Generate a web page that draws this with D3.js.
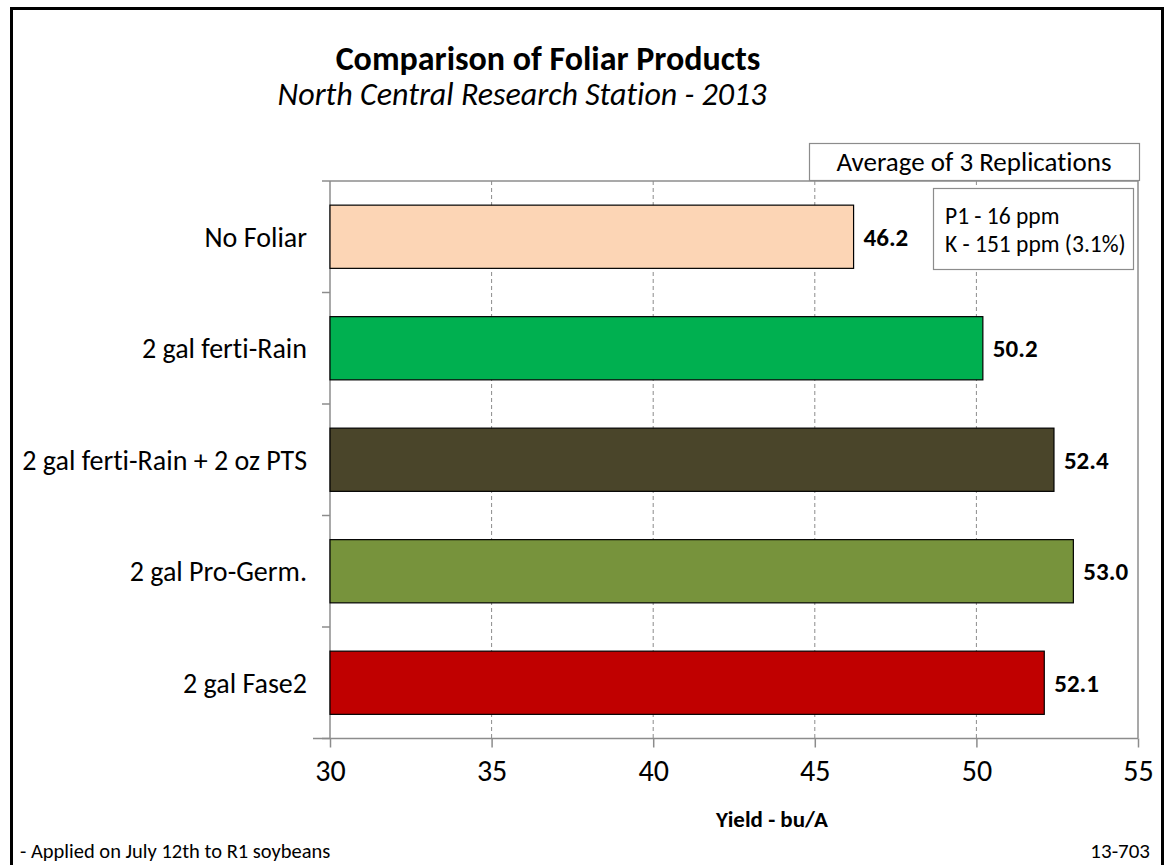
<!DOCTYPE html>
<html>
<head>
<meta charset="utf-8">
<script src="https://cdn.jsdelivr.net/npm/d3@7"></script>
<style>
  body { margin: 0; background: #fff; }
  svg text { font-family: Carlito, Calibri, Lato, "Open Sans", sans-serif; fill: #000; font-variant-ligatures: none; }
</style>
</head>
<body>
<div id="chart"></div>
<script>
// data
var categories = ["No Foliar", "2 gal ferti-Rain", "2 gal ferti-Rain + 2 oz PTS", "2 gal Pro-Germ.", "2 gal Fase2"];
var yields = [46.2, 50.2, 52.4, 53.0, 52.1];
var barColors = ["#FCD5B5", "#00B050", "#4A452A", "#77933C", "#C00000"];
var xTicks = [30, 35, 40, 45, 50, 55];
var notes = ["P1 - 16 ppm", "K - 151 ppm (3.1%)"];

var width = 1169, height = 865;
var plot = {left: 330, right: 1138, top: 181, bottom: 738.5};

var svg = d3.select("#chart").append("svg")
    .attr("width", width)
    .attr("height", height);

// outer frame
svg.append("rect")
    .attr("x", 11.5).attr("y", 8.5)
    .attr("width", 1151).attr("height", 900)
    .attr("fill", "none")
    .attr("stroke", "#000")
    .attr("stroke-width", 3);

var x = d3.scaleLinear().domain([30, 55]).range([plot.left, plot.right]);
var y = d3.scaleBand().domain(categories).range([plot.top, plot.bottom]);
var barH = y.bandwidth() * 0.567;

// grid lines (dashed)
svg.append("g").selectAll("line")
    .data(xTicks.slice(1, -1))
    .enter().append("line")
    .attr("x1", function (d) { return x(d); })
    .attr("x2", function (d) { return x(d); })
    .attr("y1", plot.top)
    .attr("y2", plot.bottom)
    .attr("stroke", "#8c8c8c")
    .attr("stroke-width", 1)
    .attr("stroke-dasharray", "4,3");

// plot area border top + right
svg.append("line")
    .attr("x1", plot.left - 8).attr("x2", plot.right)
    .attr("y1", plot.top).attr("y2", plot.top)
    .attr("stroke", "#8c8c8c").attr("stroke-width", 1.5);
svg.append("line")
    .attr("x1", plot.right).attr("x2", plot.right)
    .attr("y1", plot.top).attr("y2", plot.bottom)
    .attr("stroke", "#8c8c8c").attr("stroke-width", 1.5);

// x axis
var xAxis = svg.append("g")
    .attr("transform", "translate(0," + plot.bottom + ")")
    .call(d3.axisBottom(x).tickValues(xTicks).tickSize(9).tickPadding(12));
xAxis.select(".domain").remove();
xAxis.append("line")
    .attr("x1", plot.left - 17).attr("x2", plot.right)
    .attr("stroke", "#8c8c8c").attr("stroke-width", 1.5);
xAxis.selectAll(".tick line").attr("stroke", "#8c8c8c").attr("stroke-width", 1.5);
xAxis.selectAll(".tick text")
    .style("font-size", "30px")
    .attr("fill", "#000")
    .style("font-family", "Carlito, Calibri, Lato, sans-serif");

// y axis (category ticks at band edges)
svg.append("line")
    .attr("x1", plot.left).attr("x2", plot.left)
    .attr("y1", plot.top).attr("y2", plot.bottom)
    .attr("stroke", "#8c8c8c").attr("stroke-width", 1.5);
svg.append("g").selectAll("line")
    .data(categories)
    .enter().append("line")
    .attr("x1", plot.left - 8).attr("x2", plot.left)
    .attr("y1", function (d) { return y(d) + y.step(); })
    .attr("y2", function (d) { return y(d) + y.step(); })
    .attr("stroke", "#8c8c8c").attr("stroke-width", 1.5);

svg.append("g").selectAll("text")
    .data(categories)
    .enter().append("text")
    .attr("x", 307)
    .attr("y", function (d) { return y(d) + y.bandwidth() / 2; })
    .attr("dy", "0.35em")
    .attr("text-anchor", "end")
    .style("font-size", "28px")
    .text(function (d) { return d; });

// bars
svg.append("g").selectAll("rect")
    .data(categories)
    .enter().append("rect")
    .attr("x", x(30))
    .attr("y", function (d) { return y(d) + (y.bandwidth() - barH) / 2; })
    .attr("width", function (d, i) { return x(yields[i]) - x(30); })
    .attr("height", barH)
    .attr("fill", function (d, i) { return barColors[i]; })
    .attr("stroke", "#000")
    .attr("stroke-width", 1.2);

// value labels
svg.append("g").selectAll("text")
    .data(categories)
    .enter().append("text")
    .attr("x", function (d, i) { return x(yields[i]) + 10; })
    .attr("y", function (d) { return y(d) + y.bandwidth() / 2; })
    .attr("dy", "0.35em")
    .style("font-size", "25px")
    .style("font-weight", "bold")
    .text(function (d, i) { return yields[i].toFixed(1); });

// titles
svg.append("text")
    .attr("x", 548).attr("y", 70)
    .attr("text-anchor", "middle")
    .style("font-size", "34px")
    .style("font-weight", "bold")
    .text("Comparison of Foliar Products");
svg.append("text")
    .attr("x", 522).attr("y", 105)
    .attr("text-anchor", "middle")
    .style("font-size", "32px")
    .style("font-style", "italic")
    .text("North Central Research Station - 2013");

// "Average of 3 Replications" box
svg.append("rect")
    .attr("x", 809.5).attr("y", 143.5)
    .attr("width", 330).attr("height", 37)
    .attr("fill", "#fff")
    .attr("stroke", "#8c8c8c").attr("stroke-width", 1.2);
svg.append("text")
    .attr("x", 974).attr("y", 171)
    .attr("text-anchor", "middle")
    .style("font-size", "27px")
    .text("Average of 3 Replications");

// soil test box
svg.append("rect")
    .attr("x", 933.5).attr("y", 188.5)
    .attr("width", 200).attr("height", 81)
    .attr("fill", "#fff")
    .attr("stroke", "#8c8c8c").attr("stroke-width", 1.2);
svg.append("g").selectAll("text")
    .data(notes)
    .enter().append("text")
    .attr("x", 945)
    .attr("y", function (d, i) { return 224 + i * 28; })
    .style("font-size", "23.5px")
    .text(function (d) { return d; });

// axis title and footnotes
svg.append("text")
    .attr("x", 772).attr("y", 827)
    .attr("text-anchor", "middle")
    .style("font-size", "23px")
    .style("font-weight", "bold")
    .text("Yield - bu/A");
svg.append("text")
    .attr("x", 20).attr("y", 858)
    .style("font-size", "20.5px")
    .text("- Applied on July 12th to R1 soybeans");
svg.append("text")
    .attr("x", 1150).attr("y", 858)
    .attr("text-anchor", "end")
    .style("font-size", "21px")
    .text("13-703");
</script>
</body>
</html>
